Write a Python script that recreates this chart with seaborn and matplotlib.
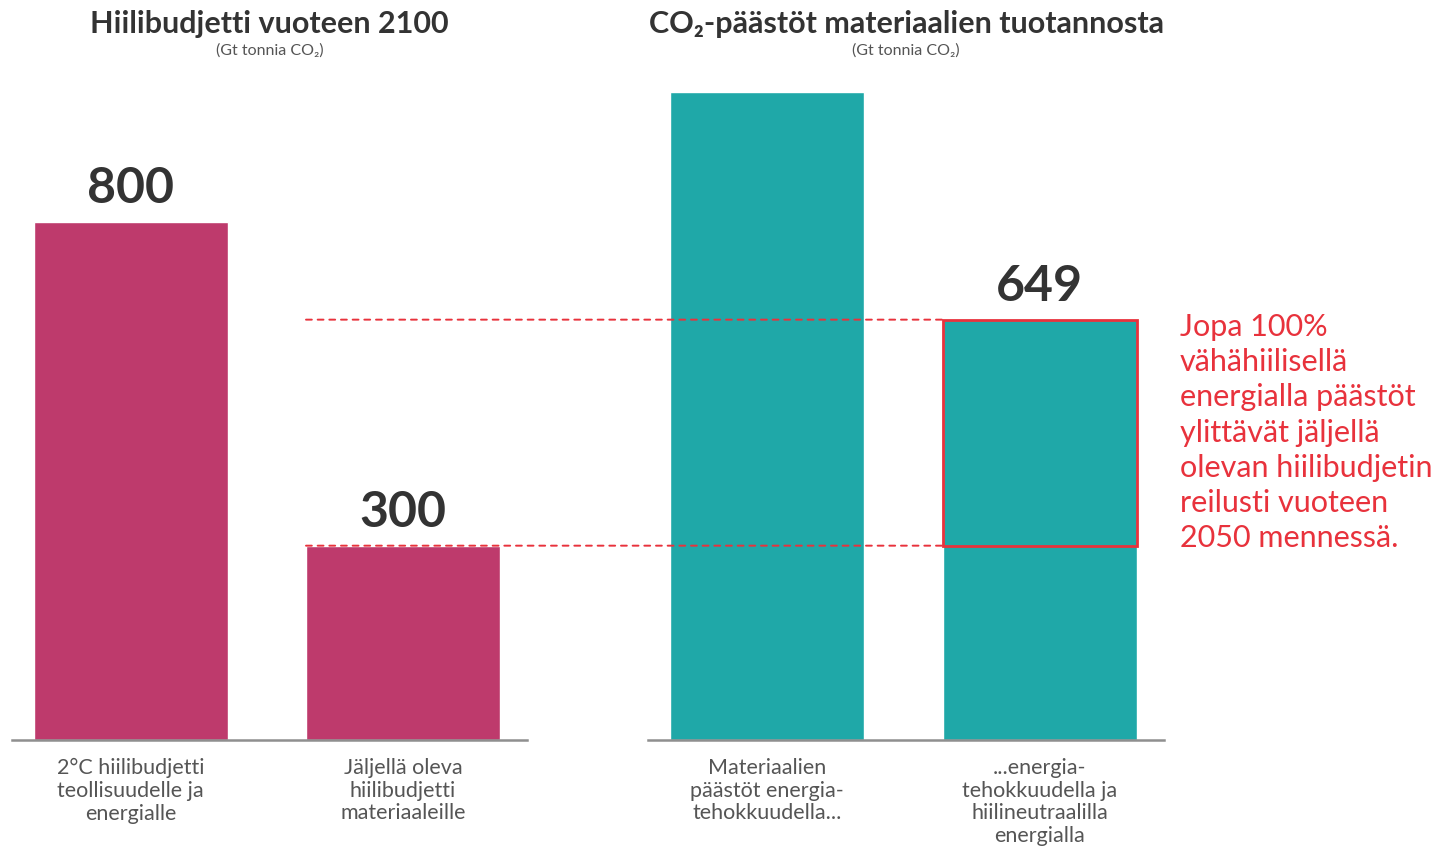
import matplotlib
matplotlib.use("Agg")
import matplotlib.pyplot as plt
from matplotlib.patches import Rectangle, ConnectionPatch
import seaborn as sns

# data
budget_labels = ["2°C hiilibudjetti\nteollisuudelle ja\nenergialle",
                 "Jäljellä oleva\nhiilibudjetti\nmateriaaleille"]
budget_values = [800, 300]
budget_text = ["800", "300"]

emission_labels = ["Materiaalien\npäästöt energia-\ntehokkuudella...",
                   "...energia-\ntehokkuudella ja\nhiilineutraalilla\nenergialla"]
emission_values = [1000, 649]
emission_text = ["", "649"]

left_title = "Hiilibudjetti vuoteen 2100"
right_title = "CO₂-päästöt materiaalien tuotannosta"
unit_text = "(Gt tonnia CO₂)"
note = ("Jopa 100%\nvähähiilisellä\nenergialla päästöt\nylittävät jäljellä\n"
        "olevan hiilibudjetin\nreilusti vuoteen\n2050 mennessä.")

MAGENTA = "#BE3A6C"
TEAL = "#1FA8A8"
RED = "#E8323C"
DARK = "#333333"
GREY = "#555555"

sns.set_theme(style="white")
plt.rcParams["font.family"] = ["Lato", "DejaVu Sans"]

fig = plt.figure(figsize=(14.43, 8.48), dpi=100)
ax1 = fig.add_axes([0.0083, 0.1274, 0.3569, 0.8019])
ax2 = fig.add_axes([0.4491, 0.1274, 0.3576, 0.8019])

bar_w = 0.712
sns.barplot(x=budget_labels, y=budget_values, ax=ax1, color=MAGENTA,
            saturation=1, width=bar_w)
sns.barplot(x=emission_labels, y=emission_values, ax=ax2, color=TEAL,
            saturation=1, width=bar_w)

for ax, texts, title in [(ax1, budget_text, left_title),
                         (ax2, emission_text, right_title)]:
    ax.set_ylim(0, 1050)
    ax.set_xlim(-0.435, 1.455)
    ax.set_yticks([])
    ax.set_ylabel("")
    for s in ["top", "left", "right"]:
        ax.spines[s].set_visible(False)
    ax.spines["bottom"].set_color("#8f8f8f")
    ax.spines["bottom"].set_linewidth(1.8)
    ax.tick_params(axis="x", length=0, pad=13, labelsize=15.5, labelcolor=GREY)
    for lbl in ax.get_xticklabels():
        lbl.set_linespacing(1.17)
    ax.bar_label(ax.containers[0], labels=texts, padding=8,
                 fontsize=36, fontweight="bold", color=DARK)
    ax.annotate(title, xy=(0.5, 1), xycoords="axes fraction",
                xytext=(0, 26), textcoords="offset points",
                ha="center", va="center", fontsize=22, fontweight="bold",
                color=DARK)
    ax.annotate(unit_text, xy=(0.5, 1), xycoords="axes fraction",
                xytext=(0, 7), textcoords="offset points",
                ha="center", va="center", fontsize=11.5, color=GREY)

# red box showing the overshoot on the last bar
edge = 1 - bar_w / 2
ax2.add_patch(Rectangle((edge, budget_values[1]), bar_w,
                        emission_values[1] - budget_values[1],
                        fill=False, edgecolor=RED, lw=2, zorder=5))

# dashed guide lines across both panels
for v in [budget_values[1], emission_values[1]]:
    con = ConnectionPatch(xyA=(edge, v), coordsA=ax1.transData,
                          xyB=(edge, v), coordsB=ax2.transData,
                          color=RED, lw=1.4, linestyle=(0, (3, 3)), zorder=6)
    fig.add_artist(con)

ax2.text(1.513, emission_values[1] + 10, note, ha="left", va="top",
         fontsize=22, color=RED, linespacing=1.31, clip_on=False)

fig.savefig("out.png", dpi=100)
